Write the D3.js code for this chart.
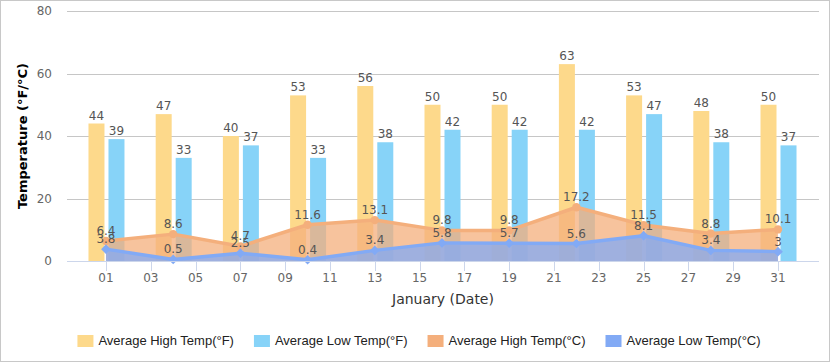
<!DOCTYPE html>
<html>
<head>
<meta charset="utf-8">
<script src="https://cdn.jsdelivr.net/npm/d3@7"></script>
<style>
  body { margin: 0; background: #fff; }
  svg { display: block; }
</style>
</head>
<body>
<script>
const width = 830;
const height = 362;
const plot = { left: 67, right: 819, top: 11, bottom: 261 };

const days = [1, 4, 7, 10, 13, 16, 19, 22, 25, 28, 31];
const highF = [44, 47, 40, 53, 56, 50, 50, 63, 53, 48, 50];
const lowF = [39, 33, 37, 33, 38, 42, 42, 42, 47, 38, 37];
const highC = [6.4, 8.6, 4.7, 11.6, 13.1, 9.8, 9.8, 17.2, 11.5, 8.8, 10.1];
const lowC = [3.8, 0.5, 2.5, 0.4, 3.4, 5.8, 5.7, 5.6, 8.1, 3.4, 3];
const xTicks = d3.range(1, 32, 2);
const yTicks = [0, 20, 40, 60, 80];

const seriesNames = ['Average High Temp(°F)', 'Average Low Temp(°F)', 'Average High Temp(°C)', 'Average Low Temp(°C)'];
const colors = ['#fdd98b', '#87d3f8', '#f4af7c', '#82aaf5'];

const x = d3.scaleLinear().domain([-0.74, 32.83]).range([plot.left, plot.right]);
const y = d3.scaleLinear().domain([0, 80]).range([plot.bottom, plot.top]);

function main() {
  const svg = d3.select('body').append('svg').attr('width', width).attr('height', height);

  svg.append('rect')
    .attr('x', 0.5).attr('y', 0.5)
    .attr('width', width - 1).attr('height', height - 1)
    .attr('fill', '#fff').attr('stroke', '#c8c8c8');

  drawGrid(svg);
  drawBars(svg);
  drawLine(svg, highC, colors[2], 'circle');
  drawLine(svg, lowC, colors[3], 'diamond');
  drawAxes(svg);
  drawLabels(svg);
  drawLegend(svg);
}

function drawGrid(svg) {
  svg.append('g')
    .selectAll('line')
    .data(yTicks.filter(d => d > 0))
    .enter()
    .append('line')
    .attr('x1', plot.left).attr('x2', plot.right)
    .attr('y1', d => Math.round(y(d)) + 0.5).attr('y2', d => Math.round(y(d)) + 0.5)
    .attr('stroke', '#c6c6c6');
}

function drawBars(svg) {
  const g = svg.append('g');
  const barW = 16;
  g.selectAll('rect.hi')
    .data(days)
    .enter()
    .append('rect')
    .attr('x', d => x(d) - 17.5)
    .attr('y', (d, i) => y(highF[i]))
    .attr('width', barW)
    .attr('height', (d, i) => y(0) - y(highF[i]))
    .attr('fill', colors[0]);
  g.selectAll('rect.lo')
    .data(days)
    .enter()
    .append('rect')
    .attr('x', d => x(d) + 2.5)
    .attr('y', (d, i) => y(lowF[i]))
    .attr('width', barW)
    .attr('height', (d, i) => y(0) - y(lowF[i]))
    .attr('fill', colors[1]);
}

function drawLine(svg, values, color, marker) {
  const pts = days.map((d, i) => [x(d), y(values[i])]);
  const area = d3.area().x(p => p[0]).y0(y(0)).y1(p => p[1]);
  const line = d3.line().x(p => p[0]).y(p => p[1]);
  const g = svg.append('g');
  g.append('path').attr('d', area(pts)).attr('fill', color).attr('fill-opacity', 0.75);
  g.append('path').attr('d', line(pts)).attr('fill', 'none')
    .attr('stroke', color).attr('stroke-width', 3.5).attr('stroke-linejoin', 'round');
  const sym = d3.symbol().type(marker === 'circle' ? d3.symbolCircle : d3.symbolDiamond2).size(marker === 'circle' ? 55 : 60);
  g.selectAll('path.m')
    .data(pts)
    .enter()
    .append('path')
    .attr('transform', p => `translate(${p[0]},${p[1]})`)
    .attr('d', sym)
    .attr('fill', color);
}

function drawAxes(svg) {
  svg.append('line')
    .attr('x1', plot.left).attr('x2', plot.right)
    .attr('y1', plot.bottom + 0.5).attr('y2', plot.bottom + 0.5)
    .attr('stroke', '#ccd6eb');

  const xg = svg.append('g').attr('font-family', 'DejaVu Sans, Verdana, sans-serif').attr('font-size', 12).attr('fill', '#666');
  xg.selectAll('line')
    .data(xTicks)
    .enter()
    .append('line')
    .attr('x1', d => Math.round(x(d)) + 0.5).attr('x2', d => Math.round(x(d)) + 0.5)
    .attr('y1', plot.bottom).attr('y2', plot.bottom + 10)
    .attr('stroke', '#ccd6eb');
  xg.selectAll('text')
    .data(xTicks)
    .enter()
    .append('text')
    .attr('x', d => x(d))
    .attr('y', 282)
    .attr('text-anchor', 'middle')
    .text(d => d3.format('02d')(d));

  const yg = svg.append('g').attr('font-family', 'DejaVu Sans, Verdana, sans-serif').attr('font-size', 12).attr('fill', '#666');
  yg.selectAll('text')
    .data(yTicks)
    .enter()
    .append('text')
    .attr('x', 52)
    .attr('y', d => y(d) + 4)
    .attr('text-anchor', 'end')
    .text(d => d);

  svg.append('text')
    .attr('x', 443).attr('y', 304)
    .attr('text-anchor', 'middle')
    .attr('font-family', 'DejaVu Sans, Verdana, sans-serif')
    .attr('font-size', 14)
    .attr('fill', '#333')
    .text('January (Date)');

  svg.append('text')
    .attr('transform', `translate(27,${(plot.top + plot.bottom) / 2}) rotate(-90)`)
    .attr('text-anchor', 'middle')
    .attr('font-family', 'DejaVu Sans, Verdana, sans-serif')
    .attr('font-size', 13)
    .attr('font-weight', 'bold')
    .attr('fill', '#000')
    .text('Temperature (°F/°C)');
}

function drawLabels(svg) {
  const g = svg.append('g')
    .attr('font-family', 'DejaVu Sans, Verdana, sans-serif')
    .attr('font-size', 12)
    .attr('fill', '#555')
    .attr('text-anchor', 'middle');
  const groups = [
    { vals: highF, dx: -9.5, dy: -4 },
    { vals: lowF, dx: 10.5, dy: -4 },
    { vals: highC, dx: 0, dy: -6 },
    { vals: lowC, dx: 0, dy: -6 }
  ];
  groups.forEach(s => {
    g.append('g')
      .selectAll('text')
      .data(days)
      .enter()
      .append('text')
      .attr('x', d => x(d) + s.dx)
      .attr('y', (d, i) => y(s.vals[i]) + s.dy)
      .text((d, i) => s.vals[i]);
  });
}

function drawLegend(svg) {
  const g = svg.append('g')
    .attr('font-family', 'Liberation Sans, Arial, sans-serif')
    .attr('font-size', 13)
    .attr('fill', '#222');
  const items = g.selectAll('g')
    .data(seriesNames)
    .enter()
    .append('g');
  items.append('rect')
    .attr('width', 16).attr('height', 12)
    .attr('y', 335)
    .attr('fill', (d, i) => colors[i]);
  items.append('text')
    .attr('x', 21).attr('y', 345)
    .text(d => d);

  let offset = 0;
  const widths = [];
  items.each(function () {
    const w = 21 + d3.select(this).select('text').node().getComputedTextLength();
    widths.push(w);
  });
  const total = d3.sum(widths) + 20 * (widths.length - 1);
  let start = 419 - total / 2;
  items.attr('transform', (d, i) => {
    const t = `translate(${start + offset},0)`;
    offset += widths[i] + 20;
    return t;
  });
}

main();
</script>
</body>
</html>
